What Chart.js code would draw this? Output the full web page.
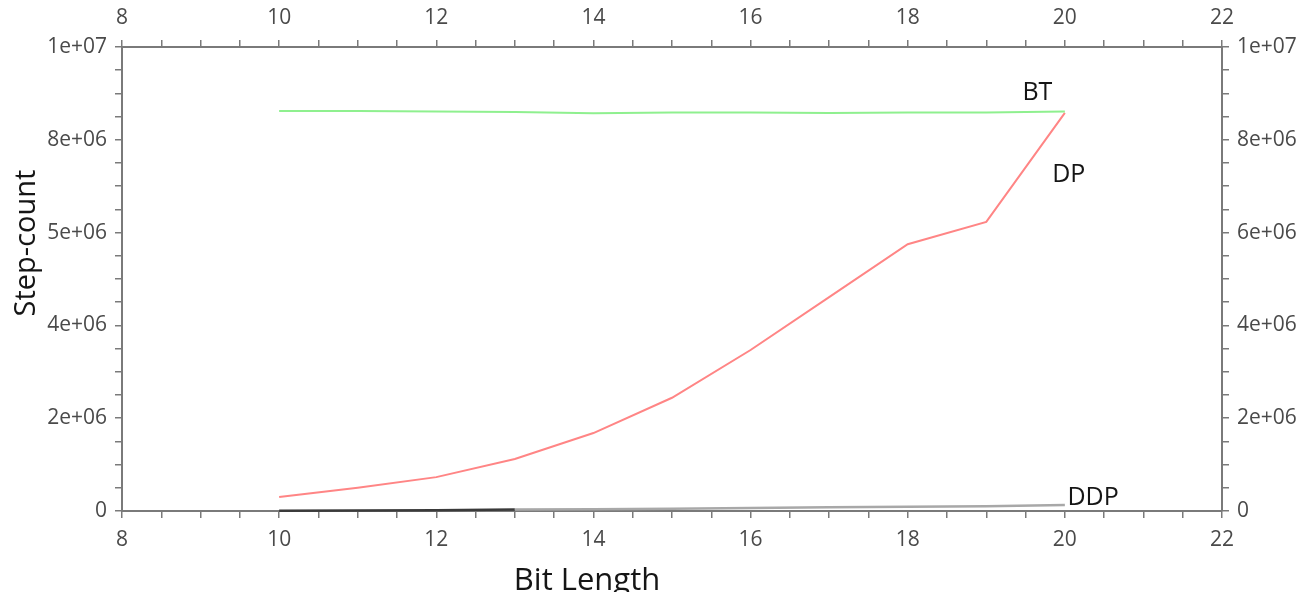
<!DOCTYPE html>
<html>
<head>
<meta charset="utf-8">
<script src="https://cdn.jsdelivr.net/npm/chart.js@4.4.1/dist/chart.umd.min.js"></script>
<style>
  html, body { margin: 0; padding: 0; background: #fff; }
  #wrap { width: 1315px; height: 592px; position: relative; }
</style>
</head>
<body>
<div id="wrap"><canvas id="chart"></canvas></div>
<script>
// Bit lengths on the x axis
const bitLengths = [10, 11, 12, 13, 14, 15, 16, 17, 18, 19, 20];

// Step counts
const btSteps = [8620000, 8620000, 8610000, 8600000, 8570000, 8590000, 8590000, 8580000, 8590000, 8590000, 8610000];
const dpSteps = [300000, 500000, 730000, 1120000, 1680000, 2440000, 3470000, 4610000, 5750000, 6230000, 8580000];
const ddpSteps = [5000, 10000, 18000, 30000, 40000, 50000, 65000, 80000, 90000, 100000, 130000];

// Tick labels (the left axis really says 5e+06 at the 6e6 mark)
const leftTickLabels = ['0', '2e+06', '4e+06', '5e+06', '8e+06', '1e+07'];
const rightTickLabels = ['0', '2e+06', '4e+06', '6e+06', '8e+06', '1e+07'];

// Series names drawn next to the lines, anchored in data units
const seriesNames = ['BT', 'DP', 'DDP'];
const nameAnchorX = [19.65, 20.05, 20.36];
const nameAnchorY = [8860000, 7090000, 130000];

const AXIS_GREY = '#7a7a7a';
const tickFont = { family: 'Open Sans', size: 21 };

const toPoints = (ys) => bitLengths.map((x, i) => ({ x, y: ys[i] }));

function xTicks(position) {
  return {
    type: 'linear',
    position,
    min: 8,
    max: 22,
    border: { color: AXIS_GREY, width: 2 },
    grid: { drawOnChartArea: false, color: AXIS_GREY, tickLength: 7, lineWidth: 1.5 },
    ticks: {
      stepSize: 0.5,
      autoSkip: false,
      maxRotation: 0,
      padding: 9,
      color: '#4a4a4a',
      font: tickFont,
      callback: (v) => (Number.isInteger(v / 2) ? String(v) : ''),
    },
  };
}

function yTicks(position, labels) {
  return {
    type: 'linear',
    position,
    min: 0,
    max: 10000000,
    border: { color: AXIS_GREY, width: 2 },
    grid: { drawOnChartArea: false, color: AXIS_GREY, tickLength: 7, lineWidth: 1.5 },
    ticks: {
      stepSize: 500000,
      autoSkip: false,
      padding: 8,
      color: '#4a4a4a',
      font: tickFont,
      callback: (v) => (v % 2000000 === 0 ? labels[Math.round(v / 2000000)] : ''),
    },
  };
}

// Axis titles and series names as plain canvas text
const textPlugin = {
  id: 'chartText',
  afterDraw(chart) {
    const { ctx, scales } = chart;
    ctx.save();
    ctx.fillStyle = '#151515';
    ctx.textAlign = 'center';
    ctx.textBaseline = 'alphabetic';

    ctx.font = '31px "Open Sans"';
    ctx.fillText('Bit Length', 587, 590);
    ctx.font = '29px "Open Sans"';
    ctx.save();
    ctx.translate(35, 243);
    ctx.rotate(-Math.PI / 2);
    ctx.fillText('Step-count', 0, 0);
    ctx.restore();

    ctx.font = '25px "Open Sans"';
    seriesNames.forEach((name, i) => {
      const px = scales.x.getPixelForValue(nameAnchorX[i]);
      const py = scales.y.getPixelForValue(nameAnchorY[i]);
      ctx.fillText(name, px, py);
    });
    ctx.restore();
  },
};

new Chart(document.getElementById('chart'), {
  type: 'line',
  data: {
    datasets: [
      {
        label: 'BT',
        data: toPoints(btSteps),
        borderColor: '#8ff08f',
        borderWidth: 2,
        pointRadius: 0,
        tension: 0,
      },
      {
        label: 'DP',
        data: toPoints(dpSteps),
        borderColor: '#ff8585',
        borderWidth: 2,
        pointRadius: 0,
        tension: 0,
      },
      {
        label: 'DDP',
        data: toPoints(ddpSteps),
        borderColor: '#a8a8a8',
        borderWidth: 2.5,
        pointRadius: 0,
        tension: 0,
        clip: false,
        segment: {
          borderColor: (c) => (c.p0.parsed.x < 13 ? '#3a3a3a' : '#a8a8a8'),
        },
      },
    ],
  },
  options: {
    responsive: true,
    maintainAspectRatio: false,
    animation: false,
    layout: { padding: 0 },
    plugins: {
      legend: { display: false },
      tooltip: { enabled: false },
    },
    scales: {
      x: { ...xTicks('bottom'), afterFit: (s) => { s.height = 81; } },
      x2: { ...xTicks('top'), afterFit: (s) => { s.height = 47; } },
      y: { ...yTicks('left', leftTickLabels), afterFit: (s) => { s.width = 122; } },
      y2: { ...yTicks('right', rightTickLabels), afterFit: (s) => { s.width = 93; } },
    },
  },
  plugins: [textPlugin],
});
</script>
</body>
</html>
